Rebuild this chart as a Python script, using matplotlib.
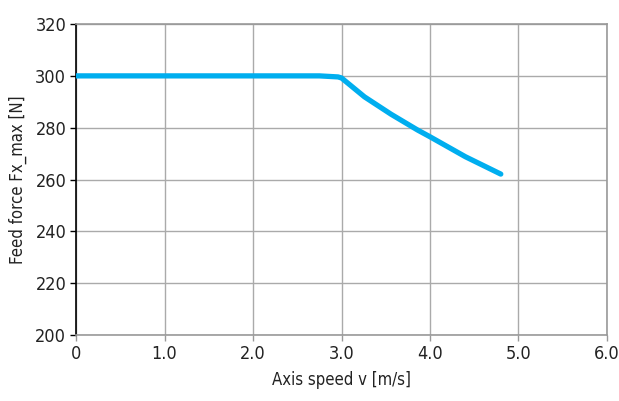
import matplotlib.pyplot as plt

# axis speed [m/s] and feed force [N]
speed = [0, 2.75, 2.96, 3.0, 3.26, 3.56, 3.86, 4.0, 4.4, 4.8]
force = [300, 300, 299.6, 299.2, 291.9, 285.2, 279.1, 276.5, 268.8, 262.1]

xticks = [0, 1, 2, 3, 4, 5, 6]
xtick_labels = ["0", "1.0", "2.0", "3.0", "4.0", "5.0", "6.0"]
yticks = [200, 220, 240, 260, 280, 300, 320]

plt.rcParams['font.family'] = ['DejaVu Sans']
plt.rcParams['font.stretch'] = 'condensed'

fig = plt.figure(figsize=(6.19, 4.01), dpi=100)
ax = fig.add_axes([0.1228, 0.1646, 0.8578, 0.7754])

ax.plot(speed, force, color='#00aeef', lw=3.8, solid_capstyle='round',
        solid_joinstyle='round', zorder=3)

ax.set_xlim(0, 6)
ax.set_ylim(200, 320)
ax.set_xticks(xticks)
ax.set_xticklabels(xtick_labels)
ax.set_yticks(yticks)
ax.grid(True, color='#aaaaaa', lw=1)
ax.set_axisbelow(True)

for side in ['top', 'right', 'bottom']:
    ax.spines[side].set_color('#999999')
    ax.spines[side].set_linewidth(1.2)
ax.spines['left'].set_color('black')
ax.spines['left'].set_linewidth(1.2)

ax.tick_params(axis='y', length=4, width=1, color='black', labelsize=13, pad=3, labelcolor='#222222')
ax.tick_params(axis='x', length=4, width=1, color='#999999', labelsize=13, pad=3, labelcolor='#222222')

ax.set_xlabel("Axis speed v [m/s]", fontsize=12, color='#222222', labelpad=6)
ax.set_ylabel("Feed force Fx_max [N]", fontsize=12, color='#222222', labelpad=6)

fig.savefig("out.png", dpi=100)
